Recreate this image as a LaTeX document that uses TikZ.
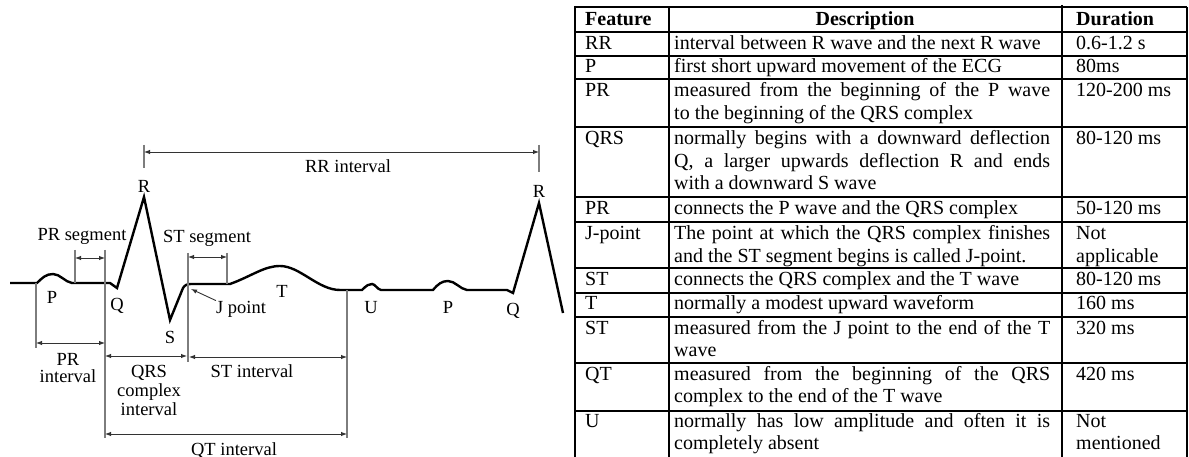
\documentclass[tikz,border=0pt]{standalone}
\usepackage{fontspec}
\setmainfont{Liberation Serif}
\usetikzlibrary{arrows.meta}
\definecolor{guide}{RGB}{125,125,125}
\newcommand\tabsize{\fontsize{20}{22.5}\selectfont}
\newcommand\ecgsize{\fontsize{18.5}{19}\selectfont}

\begin{document}
\begin{tikzpicture}[x=1pt,y=-1pt,every node/.style={inner sep=0pt},
  lbl/.style={anchor=base,font=\ecgsize},
  dim/.style={black!80,line width=0.9pt,{Latex[length=6pt,width=4.5pt]}-{Latex[length=6pt,width=4.5pt]}},
  guideline/.style={guide,line width=1.1pt},
  cell/.style={anchor=base west,font=\tabsize},
  grid/.style={black,line width=1.4pt}]
\fill[white] (0,0) rectangle (1189,457);
\useasboundingbox (0,0) rectangle (1189,457);
% ECG trace
\draw[black,line width=2.4pt] (10,283) -- (37,283)
  .. controls (42,278) and (46,274) .. (53,274)
  .. controls (60,274) and (65,282) .. (72,283)
  -- (110,283) -- (117,288) -- (144,197) -- (170,320) -- (183,288)
  .. controls (185,285) and (187,284) .. (191,284)
  -- (230,284)
  .. controls (252,276) and (264,266) .. (280,266)
  .. controls (300,266) and (318,290) .. (340,290)
  -- (362,290)
  .. controls (367,285) and (369,284) .. (372,284)
  .. controls (375,284) and (377,289) .. (381,290)
  -- (433,290)
  .. controls (438,284) and (442,281) .. (448,281)
  .. controls (455,281) and (460,289) .. (467,290)
  -- (507,290) -- (513,293) -- (539,203) -- (563,313);
\draw[guideline] (36,283) -- (36,348);
\draw[guideline] (75,250) -- (75,283);
\draw[guideline] (105,250) -- (105,438);
\draw[guideline] (188,253) -- (188,362);
\draw[guideline] (227,253) -- (227,284);
\draw[guideline] (347,290) -- (347,438);
\draw[guideline] (144,145) -- (144,168);
\draw[guideline] (539,145) -- (539,172);
\coordinate (prsA) at (75,258);
\coordinate (prsB) at (105,258);
\coordinate (stsA) at (188,257);
\coordinate (stsB) at (227,257);
\coordinate (priA) at (36,343);
\coordinate (priB) at (105,343);
\coordinate (qrsA) at (105,356);
\coordinate (qrsB) at (187,356);
\coordinate (stiA) at (189,357);
\coordinate (stiB) at (347,357);
\coordinate (qtA) at (105,434);
\coordinate (qtB) at (347,434);
\coordinate (rrA) at (144,152);
\coordinate (rrB) at (539,152);
\coordinate (jpt) at (191,289);
\draw[dim] (prsA) -- (prsB);
\draw[dim] (stsA) -- (stsB);
\draw[dim] (priA) -- (priB);
\draw[dim] (qrsA) -- (qrsB);
\draw[dim] (stiA) -- (stiB);
\draw[dim] (qtA) -- (qtB);
\draw[dim] (rrA) -- (rrB);
\node[lbl] (R1) at (144,193) {R};
\node[lbl] (R2) at (539,198) {R};
\node[lbl] (P1) at (52,303) {P};
\node[lbl] (Q1) at (117,310) {Q};
\node[lbl] (S) at (170,343) {S};
\node[lbl] (jlbl) at (241,313) {J point};
\node[lbl] (T) at (282,297) {T};
\node[lbl] (U) at (371,313) {U};
\node[lbl] (P2) at (448,313) {P};
\node[lbl] (Q2) at (513,315) {Q};
\node[lbl] (prseg) at (82,241) {PR segment};
\node[lbl] (stseg) at (207,243) {ST segment};
\node[lbl] (rrlbl) at (348,173) {RR interval};
\node[lbl] (stint) at (252,377) {ST interval};
\node[lbl] (qtint) at (234,455) {QT interval};
\node[lbl] (print) at (68,365) {\parbox[t]{70pt}{\centering\fontsize{18.5}{17}\selectfont PR\\interval}};
\node[lbl] (qrsint) at (149,377) {\parbox[t]{80pt}{\centering QRS\\complex\\interval}};
\draw[black!80,line width=0.9pt,-{Latex[length=6pt,width=4.5pt]}] (jlbl.north west) -- (jpt);
% table
\draw[grid] (575,6) -- (575,457);
\draw[grid] (669,7) -- (669,457);
\draw[grid] (1062,5) -- (1062,457);
\draw[grid] (1187,7) -- (1187,457);
\draw[grid] (575,7) -- (1187,7);
\draw[grid] (575,32) -- (1187,32);
\draw[grid] (575,56) -- (1187,56);
\draw[grid] (575,79) -- (1187,79);
\draw[grid] (575,127) -- (1187,127);
\draw[grid] (575,197) -- (1187,197);
\draw[grid] (575,222) -- (1187,222);
\draw[grid] (575,268) -- (1187,268);
\draw[grid] (575,293) -- (1187,293);
\draw[grid] (575,317) -- (1187,317);
\draw[grid] (575,363) -- (1187,363);
\draw[grid] (575,411) -- (1187,411);
\node[cell] (fh) at (585,26) {\textbf{Feature}};
\node[cell,anchor=base] (dh) at (865,26) {\textbf{Description}};
\node[cell] (th) at (1076,26) {\textbf{Duration}};
\node[cell] (f1) at (585,50) {RR};
\node[cell] (d1) at (674,50) {interval between R wave and the next R wave};
\node[cell] (t1) at (1076,50) {0.6-1.2 s};
\node[cell] (f2) at (585,73) {P};
\node[cell] (d2) at (674,73) {first short upward movement of the ECG};
\node[cell] (t2) at (1076,73) {80ms};
\node[cell] (f3) at (585,97) {PR};
\node[cell] (d3) at (674,97) {\parbox[t]{376pt}{measured from the beginning of the P wave\linebreak to the beginning of the QRS complex}};
\node[cell] (t3) at (1076,97) {120-200 ms};
\node[cell] (f4) at (585,145) {QRS};
\node[cell] (d4) at (674,145) {\parbox[t]{376pt}{normally begins with a downward deflection\linebreak Q, a larger upwards deflection R and ends\linebreak with a downward S wave}};
\node[cell] (t4) at (1076,145) {80-120 ms};
\node[cell] (f5) at (585,215) {PR};
\node[cell] (d5) at (674,215) {connects the P wave and the QRS complex};
\node[cell] (t5) at (1076,215) {50-120 ms};
\node[cell] (f6) at (585,240) {J-point};
\node[cell] (d6) at (674,240) {\parbox[t]{376pt}{The point at which the QRS complex finishes\linebreak and the ST segment begins is called J-point.}};
\node[cell] (t6) at (1076,240) {\parbox[t]{105pt}{Not\\applicable}};
\node[cell] (f7) at (585,285) {ST};
\node[cell] (d7) at (674,285) {connects the QRS complex and the T wave};
\node[cell] (t7) at (1076,285) {80-120 ms};
\node[cell] (f8) at (585,309) {T};
\node[cell] (d8) at (674,309) {normally a modest upward waveform};
\node[cell] (t8) at (1076,309) {160 ms};
\node[cell] (f9) at (585,334) {ST};
\node[cell] (d9) at (674,334) {\parbox[t]{376pt}{measured from the J point to the end of the T\linebreak wave}};
\node[cell] (t9) at (1076,334) {320 ms};
\node[cell] (f10) at (585,380) {QT};
\node[cell] (d10) at (674,380) {\parbox[t]{376pt}{measured from the beginning of the QRS\linebreak complex to the end of the T wave}};
\node[cell] (t10) at (1076,380) {420 ms};
\node[cell] (f11) at (585,427) {U};
\node[cell] (d11) at (674,427) {\parbox[t]{376pt}{normally has low amplitude and often it is\linebreak completely absent}};
\node[cell] (t11) at (1076,427) {\parbox[t]{105pt}{Not\\mentioned}};
\end{tikzpicture}
\end{document}
